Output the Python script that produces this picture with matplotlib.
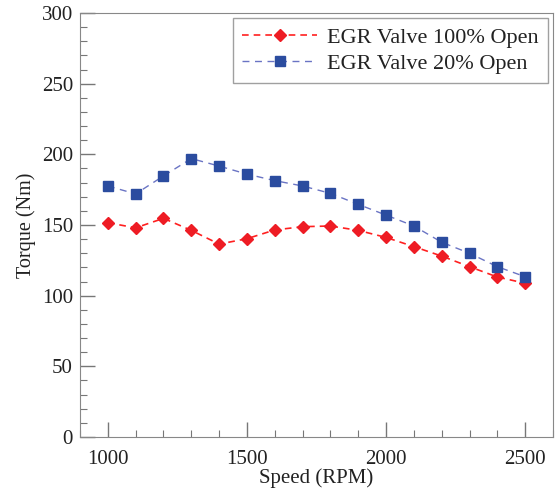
import matplotlib
matplotlib.use("Agg")
import matplotlib.pyplot as plt
from matplotlib.ticker import MultipleLocator

speed = [1000, 1100, 1200, 1300, 1400, 1500, 1600, 1700, 1800, 1900, 2000, 2100, 2200, 2300, 2400, 2500]
egr100 = [151.6, 148.0, 154.7, 146.2, 136.5, 140.3, 146.5, 148.8, 149.3, 146.2, 141.2, 134.7, 128.0, 120.5, 113.2, 108.8]
egr20 = [177.6, 172.0, 184.7, 197.0, 191.7, 186.0, 181.4, 177.6, 172.4, 164.6, 157.0, 149.3, 137.8, 130.0, 120.5, 113.4]
labels = ["EGR Valve 100% Open", "EGR Valve 20% Open"]

plt.rcParams['font.family'] = ['Liberation Serif', 'DejaVu Serif']

fig = plt.figure(figsize=(5.58, 4.92), dpi=100)
ax = fig.add_axes([80/558, 1 - 437/492, (553-80)/558, (437-13)/492])

ax.plot(speed, egr100, linestyle=(0, (4, 3)), color='#ff2020', lw=1.2,
        marker='D', markersize=6, markerfacecolor='#ee1c24', markeredgecolor='#ee1c24', label=labels[0])
ax.plot(speed, egr20, linestyle=(0, (5, 4)), color='#6a74c4', lw=1.0,
        marker='s', markersize=7, markerfacecolor='#2b4c9f', markeredgecolor='#2b4c9f', label=labels[1])

ax.set_xlim(900, 2600)
ax.set_ylim(0, 300)
ax.xaxis.set_major_locator(MultipleLocator(500))
ax.xaxis.set_minor_locator(MultipleLocator(100))
ax.yaxis.set_major_locator(MultipleLocator(50))
ax.yaxis.set_minor_locator(MultipleLocator(10))
ax.tick_params(which='both', direction='in', colors='#777777', labelcolor='#222222', labelsize=15)
ax.tick_params(which='major', length=11, width=1)
ax.tick_params(which='minor', length=5, width=0.8)
ax.tick_params(axis='x', pad=9)
ax.tick_params(axis='y', pad=5)
for s in ax.spines.values():
    s.set_color('#888888')

ax.set_xlabel("Speed (RPM)", fontsize=15, labelpad=0, color='#222222')
ax.set_ylabel("Torque (Nm)", fontsize=14.5, labelpad=4, color='#222222')

leg = ax.legend(loc='upper right', fontsize=16, frameon=True, fancybox=False,
                edgecolor='#888888', borderpad=0.4, handlelength=3.4, handletextpad=0.45,
                labelspacing=0.25, borderaxespad=0, bbox_to_anchor=(0.989, 0.988))
leg.get_frame().set_linewidth(1.0)
for t in leg.get_texts():
    t.set_color('#222222')

fig.savefig("out.png", dpi=100)
